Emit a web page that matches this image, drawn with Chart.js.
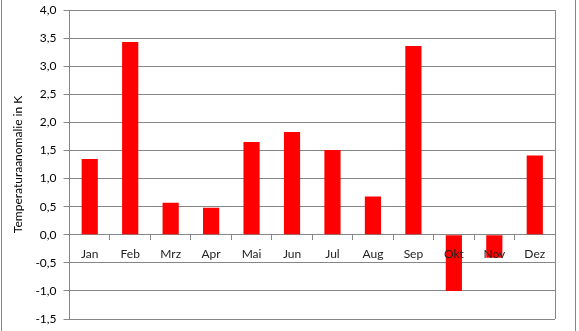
<!DOCTYPE html>
<html>
<head>
<meta charset="utf-8">
<script src="https://cdn.jsdelivr.net/npm/chart.js@4"></script>
<style>
  html, body { margin: 0; padding: 0; background: #fff; }
  #wrap { width: 579px; height: 331px; position: relative; }
</style>
</head>
<body>
<div id="wrap"><canvas id="chart"></canvas></div>
<script>
const months = ['Jan', 'Feb', 'Mrz', 'Apr', 'Mai', 'Jun', 'Jul', 'Aug', 'Sep', 'Okt', 'Nov', 'Dez'];
const anomaly = [1.35, 3.43, 0.57, 0.48, 1.65, 1.83, 1.51, 0.68, 3.36, -1.0, -0.41, 1.41];
const yTicks = [-1.5, -1.0, -0.5, 0.0, 0.5, 1.0, 1.5, 2.0, 2.5, 3.0, 3.5, 4.0];

const gridGray = '#868686';

// outer frame plus the right edge of the plot box
const frame = {
    id: 'frame',
    afterDraw(chart) {
        const ctx = chart.ctx;
        const a = chart.chartArea;
        ctx.save();
        ctx.strokeStyle = gridGray;
        ctx.lineWidth = 1;
        ctx.beginPath();
        ctx.moveTo(Math.round(a.right) + 0.5, a.top);
        ctx.lineTo(Math.round(a.right) + 0.5, a.bottom);
        ctx.moveTo(1.5, 0);
        ctx.lineTo(1.5, chart.height);
        ctx.moveTo(chart.width - 3.5, 0);
        ctx.lineTo(chart.width - 3.5, chart.height);
        ctx.stroke();
        ctx.restore();
    }
};

Chart.defaults.font.family = 'Lato, "Open Sans", sans-serif';
Chart.defaults.font.size = 12;
Chart.defaults.color = '#000';

new Chart(document.getElementById('chart'), {
    type: 'bar',
    data: {
        labels: months,
        datasets: [{
            data: anomaly,
            backgroundColor: '#ff0000',
            borderWidth: 0,
            barPercentage: 0.4,
            categoryPercentage: 1.0
        }]
    },
    options: {
        responsive: true,
        maintainAspectRatio: false,
        animation: false,
        layout: { padding: { top: 10, right: 24, bottom: 12, left: 11 } },
        plugins: { legend: { display: false }, tooltip: { enabled: false } },
        scales: {
            x: {
                position: { y: 0 },
                offset: true,
                grid: { offset: true, drawOnChartArea: false, color: gridGray, tickLength: 5 },
                border: { color: gridGray },
                ticks: { padding: 7, color: '#222', z: 1 }
            },
            y: {
                min: -1.5,
                max: 4.0,
                afterBuildTicks(scale) {
                    scale.ticks = yTicks.map(v => ({ value: v }));
                },
                afterFit(scale) {
                    scale.paddingTop = 0;
                    scale.paddingBottom = 0;
                },
                grid: { color: gridGray, tickLength: 6 },
                border: { color: gridGray },
                ticks: {
                    padding: 7,
                    callback: v => v.toFixed(1).replace('.', ',')
                },
                title: {
                    display: true,
                    text: 'Temperaturaanomalie in K',
                    padding: { top: 0, bottom: 3 }
                }
            }
        }
    },
    plugins: [frame]
});
</script>
</body>
</html>
